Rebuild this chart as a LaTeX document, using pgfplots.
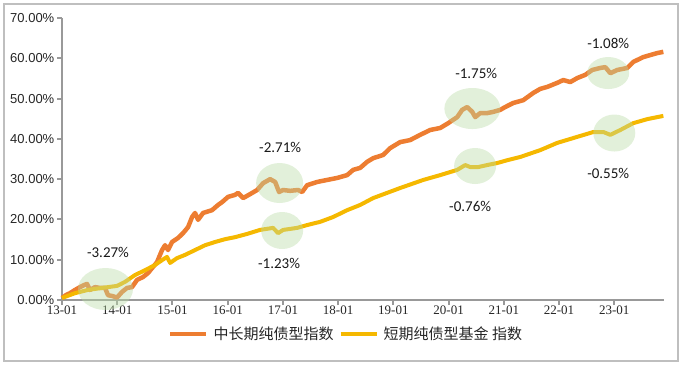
\documentclass[border=0pt]{standalone}
\usepackage{pgfplots}
\pgfplotsset{compat=1.18}
\usepackage{fontspec}
\setmainfont{Liberation Sans}
\newfontfamily\calfont{Carlito}
\newfontfamily\cjk{Noto Sans CJK SC}
\newfontfamily\serfont{Liberation Serif}
\definecolor{lorange}{HTML}{ED7D31}
\definecolor{lyellow}{HTML}{F5B800}
\definecolor{ellg}{RGB}{186,220,166}
\definecolor{axgray}{HTML}{999999}
\definecolor{framegray}{HTML}{BFBFBF}
\begin{document}
\begin{tikzpicture}
\useasboundingbox (-62bp,-69bp) rectangle (623bp,300bp);
\draw[framegray, line width=2bp] (-58bp,-61bp) rectangle (616bp,296bp);
\begin{axis}[
  at={(0,0)}, anchor=south west,
  scale only axis, width=602bp, height=282bp,
  xmin=0, xmax=10.9, ymin=0, ymax=70,
  clip=false,
  axis lines=left,
  axis line style={-, draw=axgray, line width=2.5bp},
  tick style={draw=axgray, line width=2bp},
  major tick length=5bp,
  tick align=outside,
  xtick={0,1,2,3,4,5,6,7,8,9,10},
  xticklabels={13-01,14-01,15-01,16-01,17-01,18-01,19-01,20-01,21-01,22-01,23-01},
  ytick={0,10,20,30,40,50,60,70},
  yticklabels={0.00\%,10.00\%,20.00\%,30.00\%,40.00\%,50.00\%,60.00\%,70.00\%},
  x tick label style={font=\serfont\fontsize{13bp}{15bp}\selectfont, text=black!85, inner sep=1bp},
  y tick label style={font=\fontsize{13bp}{15bp}\selectfont, text=black!85, inner sep=2.5bp},
  legend columns=2,
  legend image code/.code={\draw[#1] (0bp,0bp) -- (36bp,0bp);},
  legend style={draw=none, fill=none, inner sep=0pt, column sep=5bp,
    font=\cjk\fontsize{15bp}{18bp}\selectfont, nodes={inner sep=0pt, text=black!85},
    at={(axis description cs:0.1761,-0.1206)}, anchor=west},
]
\addplot[lorange, line width=4.5bp, line join=round] coordinates {
(0,0.5) (0.07,1.2) (0.145,1.7) (0.236,2.5) (0.326,3.2) (0.399,3.7) (0.453,4.0)
(0.507,2.5) (0.598,3.2) (0.688,3.0) (0.779,3.0) (0.833,1.2) (0.906,1.0) (0.996,0.6)
(1.087,2.0) (1.178,3.0) (1.268,3.2) (1.359,5.0) (1.467,5.7) (1.558,6.7) (1.63,7.9)
(1.721,9.4) (1.775,11.2) (1.812,12.4) (1.866,13.6) (1.92,12.4) (1.993,14.4) (2.101,15.4)
(2.192,16.6) (2.283,18.1) (2.355,20.6) (2.409,21.6) (2.464,19.9) (2.554,21.6) (2.717,22.3)
(2.826,23.6) (2.899,24.3) (3.007,25.6) (3.134,26.1) (3.188,26.6) (3.279,25.3) (3.37,26.0)
(3.533,27.3) (3.641,29.0) (3.768,30.0) (3.859,29.3) (3.931,26.8) (4.004,27.3) (4.13,27.1)
(4.275,27.3) (4.348,26.8) (4.438,28.5) (4.62,29.3) (4.801,29.8) (4.982,30.3) (5.163,31.0)
(5.272,32.3) (5.399,32.8) (5.525,34.3) (5.634,35.2) (5.815,36.0) (5.942,37.7) (6.123,39.2)
(6.304,39.7) (6.486,41.0) (6.667,42.2) (6.848,42.7) (6.993,43.9) (7.156,45.4) (7.246,47.2)
(7.337,47.9) (7.428,46.7) (7.482,45.4) (7.572,46.4) (7.699,46.4) (7.808,46.7) (7.935,47.2)
(8.025,47.9) (8.17,48.9) (8.351,49.6) (8.533,51.4) (8.659,52.4) (8.786,52.9) (8.967,53.9)
(9.076,54.6) (9.203,54.1) (9.33,55.1) (9.475,55.9) (9.601,57.1) (9.746,57.6) (9.837,57.8)
(9.928,56.3) (10.054,57.1) (10.236,57.6) (10.344,59.1) (10.525,60.3) (10.652,60.8)
(10.779,61.3) (10.888,61.6)
};
\addlegendentry{中长期纯债型指数}
\addplot[lyellow, line width=4bp, line join=round] coordinates {
(0,0.5) (0.236,1.7) (0.471,2.5) (0.725,3.0) (0.996,3.5) (1.141,4.5) (1.322,6.2)
(1.504,7.4) (1.685,8.7) (1.812,9.9) (1.902,10.7) (1.957,9.2) (2.083,10.4) (2.228,11.2)
(2.409,12.4) (2.591,13.6) (2.772,14.4) (2.953,15.1) (3.134,15.6) (3.351,16.4) (3.587,17.4)
(3.822,17.9) (3.913,16.6) (4.004,17.4) (4.257,17.9) (4.438,18.6) (4.674,19.4) (4.909,20.6)
(5.163,22.3) (5.399,23.6) (5.634,25.3) (5.888,26.6) (6.123,27.8) (6.54,29.8) (6.848,31.0)
(7.156,32.3) (7.301,33.5) (7.391,33.0) (7.536,33.0) (7.699,33.5) (7.88,34.0) (8.062,34.7)
(8.297,35.5) (8.659,37.2) (8.967,39.0) (9.33,40.5) (9.62,41.7) (9.801,41.7) (9.928,41.0)
(10.109,42.2) (10.344,43.9) (10.598,44.9) (10.888,45.7)
};
\addlegendentry{短期纯债型基金 指数}
\fill[ellg, opacity=0.42] (axis cs:0.788,2.73) ellipse [x radius=27.5bp, y radius=21bp];
\fill[ellg, opacity=0.42] (axis cs:3.94,29.04) ellipse [x radius=23.5bp, y radius=20bp];
\fill[ellg, opacity=0.42] (axis cs:3.986,17.25) ellipse [x radius=21bp, y radius=18.5bp];
\fill[ellg, opacity=0.42] (axis cs:7.43,47.53) ellipse [x radius=28bp, y radius=20.5bp];
\fill[ellg, opacity=0.42] (axis cs:7.48,33.26) ellipse [x radius=21bp, y radius=18bp];
\fill[ellg, opacity=0.42] (axis cs:9.89,56.34) ellipse [x radius=21bp, y radius=16bp];
\fill[ellg, opacity=0.42] (axis cs:10.0,41.45) ellipse [x radius=21bp, y radius=18.5bp];
\begin{scope}[every node/.style={font=\calfont\fontsize{15bp}{17bp}\selectfont, text=black!90, inner sep=0pt}]
\node at (axis cs:0.833,11.91) {-3.27\%};
\node at (axis cs:3.95,37.97) {-2.71\%};
\node at (axis cs:3.93,9.18) {-1.23\%};
\node at (axis cs:7.5,56.34) {-1.75\%};
\node at (axis cs:7.39,23.33) {-0.76\%};
\node at (axis cs:9.89,63.79) {-1.08\%};
\node at (axis cs:9.89,31.52) {-0.55\%};
\end{scope}
\end{axis}
\end{tikzpicture}
\end{document}
